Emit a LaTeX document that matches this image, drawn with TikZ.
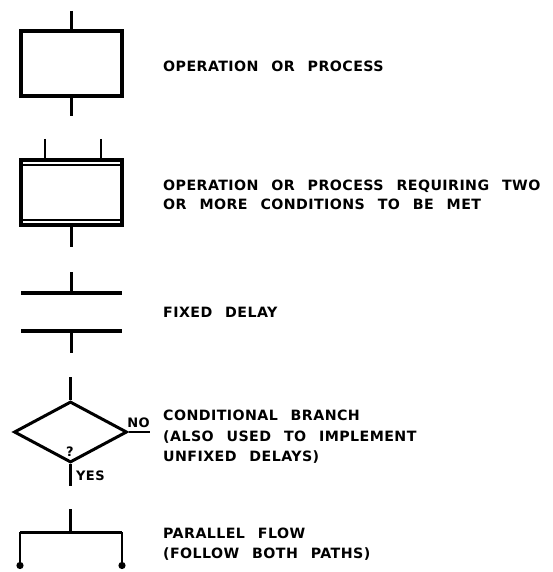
\documentclass[tikz,border=0pt]{standalone}
\usepackage{fontspec}
\setmainfont{DejaVu Sans}[BoldFont={DejaVu Sans Bold}]
\newfontfamily\lblfont{DejaVu Sans Bold}[LetterSpace=3,WordSpace=2.4]
\usetikzlibrary{shapes.geometric,arrows.meta}
\begin{document}
\begin{tikzpicture}[x=1pt,y=-1pt,
  boxst/.style={draw,rectangle,line width=3.6pt,minimum width=101pt,minimum height=65pt,inner sep=0pt},
  conn/.style={line width=2.3pt},
  bar/.style={line width=3.6pt},
  thinbar/.style={line width=2.3pt},
  lbl/.style={anchor=base west,inner sep=0pt,font=\lblfont\fontsize{14.2}{16}\selectfont},
  small/.style={inner sep=0pt,font=\lblfont\fontsize{13}{15}\selectfont},
  dia/.style={draw,diamond,line width=3pt,minimum width=113pt,minimum height=61pt,inner sep=0pt}]
\useasboundingbox (0,0) rectangle (553,572);
% 1: operation or process
\node[boxst] (b1) at (71.5,63.5) {};
\coordinate (b1in) at (71.5,11);
\coordinate (b1out) at (71.5,116);
\draw[conn] (b1in) -- (b1.north);
\draw[conn] (b1.south) -- (b1out);
\node[lbl] (t1) at (163,71.5) {OPERATION OR PROCESS};
% 2: two or more conditions
\node[boxst] (b2) at (71.5,192.5) {};
\coordinate (b2inA) at (45,139);
\coordinate (b2inB) at (101,139);
\coordinate (b2out) at (71.5,247);
\draw[conn] (b2inA) -- (b2inA |- b2.north);
\draw[conn] (b2inB) -- (b2inB |- b2.north);
\draw[thinbar] ([yshift=-6.5pt]b2.north west) -- ([yshift=-6.5pt]b2.north east);
\draw[thinbar] ([yshift=6.5pt]b2.south west) -- ([yshift=6.5pt]b2.south east);
\draw[conn] (b2.south) -- (b2out);
\node[lbl] (t2a) at (163,190.5) {OPERATION OR PROCESS REQUIRING TWO};
\node[lbl] (t2b) at (163,209.5) {OR MORE CONDITIONS TO BE MET};
% 3: fixed delay
\coordinate (d1l) at (21,293);
\coordinate (d1r) at (122,293);
\coordinate (d2l) at (21,331);
\coordinate (d2r) at (122,331);
\coordinate (d1) at (71.5,293);
\coordinate (d2) at (71.5,331);
\coordinate (din) at (71.5,272);
\coordinate (dout) at (71.5,353);
\draw[bar] (d1l) -- (d1r);
\draw[bar] (d2l) -- (d2r);
\draw[conn] (din) -- (d1);
\draw[conn] (d2) -- (dout);
\node[lbl] (t3) at (163,317) {FIXED DELAY};
% 4: conditional branch
\node[dia] (c) at (70.5,432) {};
\coordinate (cin) at (70.5,377);
\coordinate (cno) at (150,432);
\coordinate (cyes) at (70.5,486);
\draw[conn] (cin) -- (c.north);
\draw[conn] (c.east) -- (cno);
\draw[conn] (c.south) -- (cyes);
\node[small] (no) at (138.5,423) {NO};
\node[small] (q) at (70,452) {?};
\node[small,anchor=west] (yes) at (76,476) {YES};
\node[lbl] (t4a) at (163,420.5) {CONDITIONAL BRANCH};
\node[lbl] (t4b) at (163,441) {(ALSO USED TO IMPLEMENT};
\node[lbl] (t4c) at (163,461) {UNFIXED DELAYS)};
% 5: parallel flow
\coordinate (pin) at (70.5,509);
\coordinate (pj) at (70.5,532);
\coordinate (pl) at (20,532);
\coordinate (pr) at (122,532);
\coordinate (plo) at (20,569);
\coordinate (pro) at (122,569);
\draw[conn] (pin) -- (pj);
\draw[line width=3pt] (pl) -- (pr);
\draw[conn,-{Circle[length=7pt]}] (pl) -- (plo);
\draw[conn,-{Circle[length=7pt]}] (pr) -- (pro);
\node[lbl] (t5a) at (163,538) {PARALLEL FLOW};
\node[lbl] (t5b) at (163,558) {(FOLLOW BOTH PATHS)};
\end{tikzpicture}
\end{document}
